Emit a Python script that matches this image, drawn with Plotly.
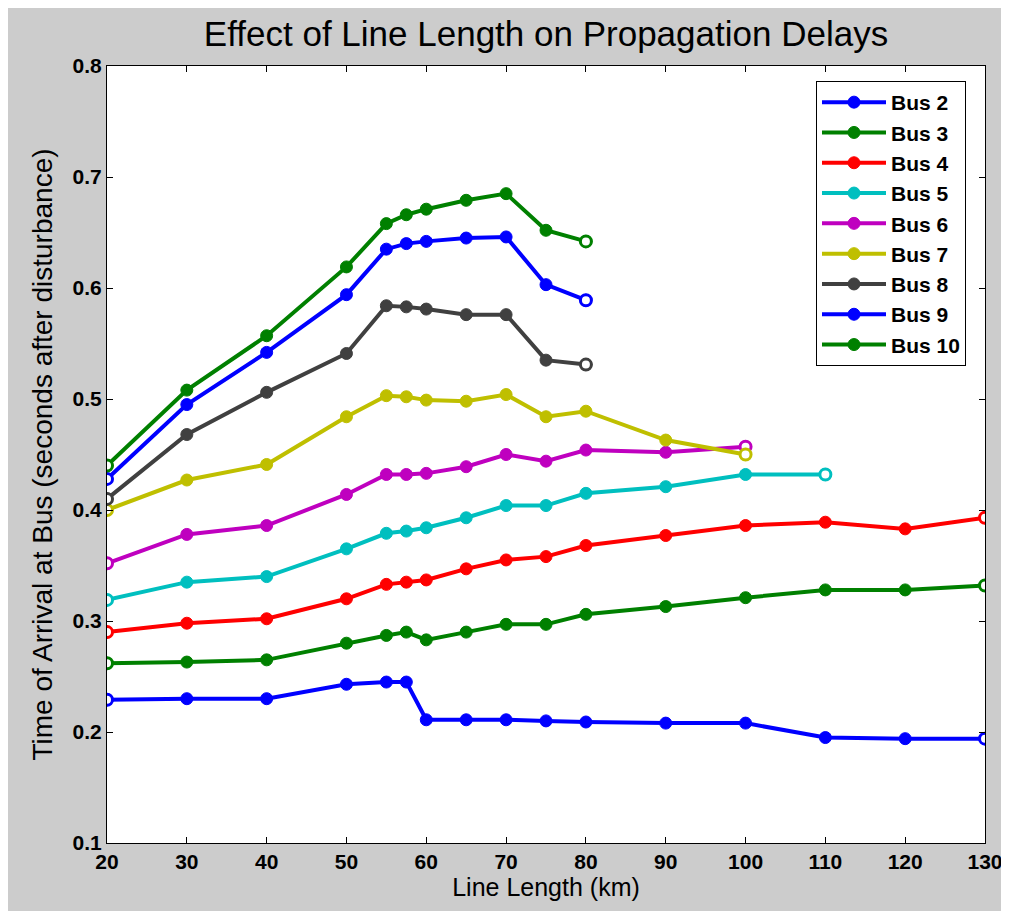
import plotly.graph_objects as go

x_short = [20, 30, 40, 50, 55, 57.5, 60, 65, 70, 75, 80]
x_100 = [20, 30, 40, 50, 55, 57.5, 60, 65, 70, 75, 80, 90, 100]
x_110 = [20, 30, 40, 50, 55, 57.5, 60, 65, 70, 75, 80, 90, 100, 110]
x_130 = [20, 30, 40, 50, 55, 57.5, 60, 65, 70, 75, 80, 90, 100, 110, 120, 130]

bus2 = [0.229, 0.230, 0.230, 0.243, 0.245, 0.245, 0.211, 0.211, 0.211, 0.210, 0.209, 0.208, 0.208, 0.195, 0.194, 0.194]
bus3 = [0.262, 0.263, 0.265, 0.280, 0.287, 0.290, 0.283, 0.290, 0.297, 0.297, 0.306, 0.313, 0.321, 0.328, 0.328, 0.332]
bus4 = [0.290, 0.298, 0.302, 0.320, 0.333, 0.335, 0.337, 0.347, 0.355, 0.358, 0.368, 0.377, 0.386, 0.389, 0.383, 0.393]
bus5 = [0.319, 0.335, 0.340, 0.365, 0.379, 0.381, 0.384, 0.393, 0.404, 0.404, 0.415, 0.421, 0.432, 0.432]
bus6 = [0.352, 0.378, 0.386, 0.414, 0.432, 0.432, 0.433, 0.439, 0.450, 0.444, 0.454, 0.452, 0.457]
bus7 = [0.400, 0.427, 0.441, 0.484, 0.503, 0.502, 0.499, 0.498, 0.504, 0.484, 0.489, 0.463, 0.450]
bus8 = [0.410, 0.468, 0.506, 0.541, 0.584, 0.583, 0.581, 0.576, 0.576, 0.535, 0.531]
bus9 = [0.428, 0.495, 0.542, 0.594, 0.635, 0.640, 0.642, 0.645, 0.646, 0.603, 0.589]
bus10 = [0.440, 0.508, 0.557, 0.619, 0.658, 0.666, 0.671, 0.679, 0.685, 0.652, 0.642]

series = [
    ("Bus 2", x_130, bus2, "#0000FF"),
    ("Bus 3", x_130, bus3, "#008000"),
    ("Bus 4", x_130, bus4, "#FF0000"),
    ("Bus 5", x_110, bus5, "#00BFBF"),
    ("Bus 6", x_100, bus6, "#BF00BF"),
    ("Bus 7", x_100, bus7, "#BFBF00"),
    ("Bus 8", x_short, bus8, "#404040"),
    ("Bus 9", x_short, bus9, "#0000FF"),
    ("Bus 10", x_short, bus10, "#008000"),
]

x_ticks = [20, 30, 40, 50, 60, 70, 80, 90, 100, 110, 120, 130]
y_ticks = [0.1, 0.2, 0.3, 0.4, 0.5, 0.6, 0.7, 0.8]

fig = go.Figure()
for i, (name, xs, ys, col) in enumerate(series):
    fig.add_trace(go.Scatter(
        x=xs, y=ys, name=name, mode="lines+markers",
        legendgroup=f"g{i}",
        line=dict(color=col, width=4),
        marker=dict(color=col, symbol="circle", size=12,
                    line=dict(color=col, width=1)),
    ))
    # hollow end points (first and last)
    fig.add_trace(go.Scatter(
        x=[xs[0], xs[-1]], y=[ys[0], ys[-1]], mode="markers",
        legendgroup=f"g{i}", showlegend=False, hoverinfo="skip",
        marker=dict(color="white", symbol="circle", size=11,
                    line=dict(color=col, width=3)),
    ))

# page has an 8px body margin; figure occupies 8..1009 x 8..911
OFF = 8
FIG_W, FIG_H = 1009 - OFF, 911 - OFF
L = 107 - OFF
T = 66 - OFF
R = FIG_W - (985 - OFF)
B = FIG_H - (843 - OFF)
pw = FIG_W - L - R
ph = FIG_H - T - B

def px_to_paper_x(px):
    return (px - OFF - L) / pw

def px_to_paper_y(py):
    return (FIG_H - B - (py - OFF)) / ph

tick_font = dict(family="Liberation Sans, Arial", size=21, color="black", weight="bold")
axis_common = dict(
    showline=True, linecolor="black", linewidth=1, mirror="ticks",
    ticks="inside", ticklen=6, tickcolor="black", tickwidth=1,
    showgrid=False, zeroline=False, tickfont=tick_font,
)

fig.update_layout(
    width=FIG_W, height=FIG_H,
    margin=dict(l=L, r=R, t=T, b=B, autoexpand=False),
    paper_bgcolor="#CCCCCC", plot_bgcolor="white",
    title=dict(text="Effect of Line Length on Propagation Delays",
               x=px_to_paper_x(546), xref="paper", xanchor="center",
               y=1 - (34 - OFF) / FIG_H, yanchor="middle",
               font=dict(family="Liberation Sans, Arial", size=35, color="black")),
    xaxis=dict(range=[20, 130], tickvals=x_ticks, ticktext=[str(v) for v in x_ticks],
               title=dict(text="Line Length (km)", standoff=4,
                          font=dict(family="Liberation Sans, Arial", size=25, color="black")),
               **axis_common),
    yaxis=dict(range=[0.1, 0.8], tickvals=y_ticks, ticktext=[f"{v:.1f}" for v in y_ticks],
               title=dict(text="Time of Arrival at Bus (seconds after disturbance)", standoff=11,
                          font=dict(family="Liberation Sans, Arial", size=28, color="black")),
               **axis_common),
    legend=dict(
        x=px_to_paper_x(966), xanchor="right", y=px_to_paper_y(81), yanchor="top",
        bgcolor="white", bordercolor="black", borderwidth=1,
        font=dict(family="Liberation Sans, Arial", size=21, color="black", weight="bold"),
        itemwidth=64, tracegroupgap=0,
    ),
    showlegend=True,
)

fig.write_html("out.html")
